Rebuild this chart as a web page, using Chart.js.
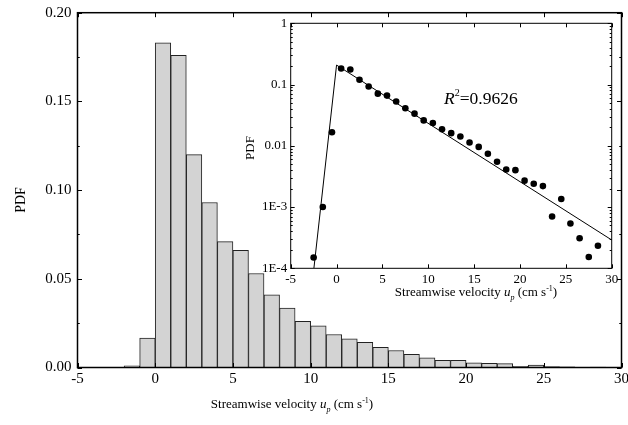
<!DOCTYPE html>
<html>
<head>
<meta charset="utf-8">
<script src="https://cdn.jsdelivr.net/npm/chart.js@4.4.1/dist/chart.umd.min.js"></script>
<style>
  html, body { margin: 0; padding: 0; background: #fff; overflow: hidden; }
  #wrap { position: relative; width: 628px; height: 425px; }
  canvas { position: absolute; left: 0; top: 0; }
</style>
</head>
<body>
<div id="wrap">
  <canvas id="mainChart" width="628" height="425"></canvas>
  <canvas id="insetChart" width="628" height="425"></canvas>
</div>
<script>
// histogram: 1 cm/s bins, centres and PDF
const binCenters = [-2.5, -1.5, -0.5, 0.5, 1.5, 2.5, 3.5, 4.5, 5.5, 6.5, 7.5, 8.5, 9.5, 10.5, 11.5,
  12.5, 13.5, 14.5, 15.5, 16.5, 17.5, 18.5, 19.5, 20.5, 21.5, 22.5, 23.5, 24.5, 25.5, 26.5, 27.5, 28.5];
const pdfValues = [0.00015, 0.001, 0.0166, 0.183, 0.176, 0.120, 0.093, 0.071, 0.066, 0.053, 0.041, 0.0335,
  0.026, 0.0235, 0.0186, 0.0161, 0.0142, 0.0113, 0.0096, 0.0074, 0.0055, 0.0041, 0.0040, 0.0027, 0.0024,
  0.0022, 0.0007, 0.00135, 0.00054, 0.00031, 0.000153, 0.000234];

const xTicks = [-5, 0, 5, 10, 15, 20, 25, 30];
const mainYTicks = [0, 0.05, 0.10, 0.15, 0.20];
const mainYMinor = [0.025, 0.075, 0.125, 0.175];
const insetYTicks = [1e-4, 1e-3, 1e-2, 1e-1, 1];
const insetYLabels = ['1E-4', '1E-3', '0.01', '0.1', '1'];

// fitted exponential (inset)
const fitX = [-2.47, 0, 30];
const fitY = [1.0e-4, 0.208, 2.9e-4];
const rSquared = '0.9626';

const serif = "'Liberation Serif', 'Times New Roman', serif";
Chart.defaults.font.family = serif;
Chart.defaults.color = '#000';

function drawVelocityTitle(ctx, cx, base, size) {
  const small = Math.round(size * 0.62);
  const parts = [
    { t: 'Streamwise velocity ', f: size + 'px ' + serif, dy: 0 },
    { t: 'u', f: 'italic ' + size + 'px ' + serif, dy: 0 },
    { t: 'p', f: 'italic ' + small + 'px ' + serif, dy: size * 0.3 },
    { t: ' (cm s', f: size + 'px ' + serif, dy: 0 },
    { t: '-1', f: small + 'px ' + serif, dy: -size * 0.38 },
    { t: ')', f: size + 'px ' + serif, dy: 0 }
  ];
  let w = 0;
  parts.forEach(p => { ctx.font = p.f; p.w = ctx.measureText(p.t).width; w += p.w; });
  let x = cx - w / 2;
  ctx.textAlign = 'left';
  ctx.textBaseline = 'alphabetic';
  ctx.fillStyle = '#000';
  parts.forEach(p => { ctx.font = p.f; ctx.fillText(p.t, x, base + p.dy); x += p.w; });
}

function drawVertical(ctx, text, x, y, size) {
  ctx.save();
  ctx.translate(x, y);
  ctx.rotate(-Math.PI / 2);
  ctx.font = size + 'px ' + serif;
  ctx.textAlign = 'center';
  ctx.textBaseline = 'middle';
  ctx.fillStyle = '#000';
  ctx.fillText(text, 0, 0);
  ctx.restore();
}

// frame + inward ticks on all four sides
const frameTicks = {
  id: 'frameTicks',
  afterDraw(chart, args, o) {
    const { ctx, chartArea: a, scales: { x, y } } = chart;
    ctx.save();
    ctx.strokeStyle = '#000';
    ctx.lineWidth = 1;
    const seg = (x0, y0, x1, y1) => { ctx.beginPath(); ctx.moveTo(x0, y0); ctx.lineTo(x1, y1); ctx.stroke(); };
    o.xMajor.forEach(v => {
      const px = Math.round(x.getPixelForValue(v)) + 0.5;
      seg(px, a.bottom, px, a.bottom - o.len);
      seg(px, a.top, px, a.top + o.len);
    });
    o.yMajor.forEach(v => {
      const py = Math.round(y.getPixelForValue(v)) + 0.5;
      seg(a.left, py, a.left + o.len, py);
      seg(a.right, py, a.right - o.len, py);
    });
    o.yMinor.forEach(v => {
      const py = Math.round(y.getPixelForValue(v)) + 0.5;
      seg(a.left, py, a.left + o.len / 2, py);
      seg(a.right, py, a.right - o.len / 2, py);
    });
    ctx.lineWidth = o.lw;
    ctx.strokeRect(a.left, a.top, a.width, a.height);
    ctx.restore();
    if (o.text) o.text(ctx, chart);
  }
};

new Chart(document.getElementById('mainChart'), {
  type: 'bar',
  data: {
    datasets: [{
      data: binCenters.map((c, i) => ({ x: c, y: pdfValues[i] })),
      backgroundColor: '#d3d3d3',
      borderColor: '#222',
      borderWidth: 1,
      barPercentage: 1,
      categoryPercentage: 1
    }]
  },
  options: {
    responsive: false,
    devicePixelRatio: 1,
    animation: false,
    layout: { padding: { left: 0, top: 12.7, right: 6.5, bottom: 0 } },
    plugins: {
      legend: { display: false },
      tooltip: { enabled: false },
      frameTicks: {
        lw: 1.5, len: 4.5,
        xMajor: xTicks, yMajor: mainYTicks, yMinor: mainYMinor,
        text(ctx) {
          drawVertical(ctx, 'PDF', 21, 200, 14);
          drawVelocityTitle(ctx, 292, 408, 13);
        }
      }
    },
    scales: {
      x: {
        type: 'linear', min: -5, max: 30, offset: false,
        grid: { display: false, drawTicks: false }, border: { display: false },
        afterBuildTicks: s => { s.ticks = xTicks.map(v => ({ value: v })); },
        ticks: { font: { size: 15 }, padding: 3, maxRotation: 0 },
        afterFit: s => { s.height = 57.5; s.paddingLeft = 0; s.paddingRight = 0; }
      },
      y: {
        min: 0, max: 0.2,
        grid: { display: false, drawTicks: false }, border: { display: false },
        afterBuildTicks: s => { s.ticks = mainYTicks.map(v => ({ value: v })); },
        ticks: { font: { size: 15 }, padding: 6, callback: v => v.toFixed(2) },
        afterFit: s => { s.width = 77.5; s.paddingTop = 0; s.paddingBottom = 0; }
      }
    }
  },
  plugins: [frameTicks]
});

// log minor ticks for the inset
const insetYMinor = [];
[1e-4, 1e-3, 1e-2, 1e-1].forEach(d => { [2, 3, 4, 5, 6, 7, 8, 9].forEach(m => insetYMinor.push(m * d)); });

new Chart(document.getElementById('insetChart'), {
  type: 'scatter',
  data: {
    datasets: [{
      data: binCenters.map((c, i) => ({ x: c, y: pdfValues[i] })),
      backgroundColor: '#000',
      borderWidth: 0,
      pointRadius: 3.3
    }, {
      data: fitX.map((v, i) => ({ x: v, y: fitY[i] })),
      showLine: true,
      borderColor: '#000',
      borderWidth: 1,
      pointRadius: 0,
      fill: false
    }]
  },
  options: {
    responsive: false,
    devicePixelRatio: 1,
    animation: false,
    layout: { padding: { left: 0, top: 23.3, right: 16.3, bottom: 0 } },
    plugins: {
      legend: { display: false },
      tooltip: { enabled: false },
      frameTicks: {
        lw: 1, len: 4,
        xMajor: xTicks, yMajor: insetYTicks, yMinor: insetYMinor,
        text(ctx) {
          drawVertical(ctx, 'PDF', 250.5, 148, 13);
          drawVelocityTitle(ctx, 476, 296, 13);
          // R^2 annotation
          ctx.save();
          ctx.fillStyle = '#000';
          ctx.textBaseline = 'alphabetic';
          ctx.textAlign = 'left';
          let x = 444;
          ctx.font = 'italic 17.5px ' + serif;
          ctx.fillText('R', x, 104); x += ctx.measureText('R').width;
          ctx.font = '10px ' + serif;
          ctx.fillText('2', x, 96); x += ctx.measureText('2').width;
          ctx.font = '17.5px ' + serif;
          ctx.fillText('=' + rSquared, x, 104);
          ctx.restore();
        }
      }
    },
    scales: {
      x: {
        type: 'linear', min: -5, max: 30,
        grid: { display: false, drawTicks: false }, border: { display: false },
        afterBuildTicks: s => { s.ticks = xTicks.map(v => ({ value: v })); },
        ticks: { font: { size: 13 }, padding: 3, maxRotation: 0 },
        afterFit: s => { s.height = 425 - 268.3; s.paddingLeft = 0; s.paddingRight = 0; }
      },
      y: {
        type: 'logarithmic', min: 1e-4, max: 1,
        grid: { display: false, drawTicks: false }, border: { display: false },
        afterBuildTicks: s => { s.ticks = insetYTicks.map(v => ({ value: v })); },
        ticks: {
          font: { size: 13 }, padding: 3.5,
          callback: (v) => insetYLabels[insetYTicks.findIndex(t => Math.abs(Math.log10(t) - Math.log10(v)) < 1e-6)]
        },
        afterFit: s => { s.width = 290.7; s.paddingTop = 0; s.paddingBottom = 0; }
      }
    }
  },
  plugins: [frameTicks]
});
</script>
</body>
</html>
